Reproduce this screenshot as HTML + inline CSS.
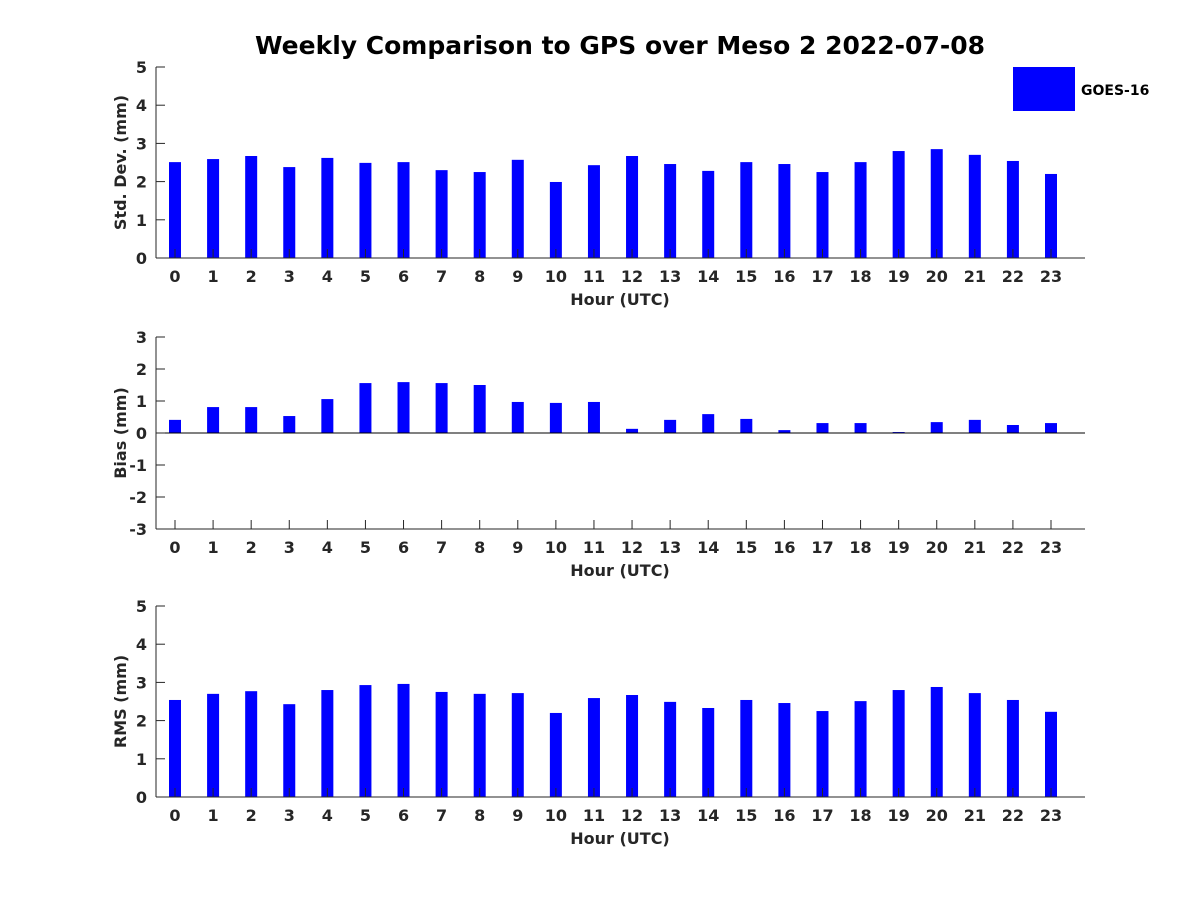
<!DOCTYPE html>
<html><head><meta charset="utf-8"><style>
body{margin:0;background:#fff}
svg text{font-family:"DejaVu Sans","Liberation Sans",sans-serif;font-weight:bold;fill:#262626}
</style></head><body>
<svg id="chart" width="1200" height="900" xmlns="http://www.w3.org/2000/svg">
<text x="620" y="54" text-anchor="middle" font-size="25" style="fill:#000">Weekly Comparison to GPS over Meso 2 2022-07-08</text>
<rect x="1013" y="67" width="62" height="44" fill="#0000ff"/>
<text x="1081" y="95" font-size="14" style="fill:#000">GOES-16</text>
<g id="plots"></g>
</svg>
<script>
const hours = [0,1,2,3,4,5,6,7,8,9,10,11,12,13,14,15,16,17,18,19,20,21,22,23];
const stdValues = [2.51,2.59,2.67,2.38,2.62,2.49,2.51,2.30,2.25,2.57,1.99,2.43,2.67,2.46,2.28,2.51,2.46,2.25,2.51,2.80,2.85,2.70,2.54,2.20];
const biasValues = [0.41,0.81,0.81,0.53,1.06,1.56,1.59,1.56,1.50,0.97,0.94,0.97,0.13,0.41,0.59,0.44,0.09,0.31,0.31,0.03,0.34,0.41,0.25,0.31];
const rmsValues = [2.54,2.70,2.77,2.43,2.80,2.93,2.96,2.75,2.70,2.72,2.20,2.59,2.67,2.49,2.33,2.54,2.46,2.25,2.51,2.80,2.88,2.72,2.54,2.23];
const stdTicks = [0,1,2,3,4,5];
const biasTicks = [-3,-2,-1,0,1,2,3];
const rmsTicks = [0,1,2,3,4,5];
const NS='http://www.w3.org/2000/svg';
const g=document.getElementById('plots');
function mk(tag,attrs,parent){const e=document.createElementNS(NS,tag);for(const k in attrs)e.setAttribute(k,attrs[k]);(parent||g).appendChild(e);return e;}
const xL=156,xR=1085;
function xs(h){return 175+(h-hours[0])*(1051-175)/23;}
function panel(name,vals,ticks,yTop,yBot,ylabel){
  const vmin=ticks[0],vmax=ticks[ticks.length-1];
  const ys=v=>yBot-(v-vmin)*(yBot-yTop)/(vmax-vmin);
  const grp=mk('g',{});
  
  
  vals.forEach((v,i)=>{
    const y0=ys(0),y1=ys(v);
    const r=mk('rect',{x:xs(hours[i])-6,y:Math.min(y0,y1),width:12,height:Math.abs(y1-y0),fill:'#0000ff'},grp);
    
    
  });
  if(vmin<0){const z=mk('line',{x1:xL,x2:xR,y1:ys(0),y2:ys(0),stroke:'#000','stroke-width':1},grp);
    }
  const ax=mk('line',{x1:xL,x2:xL,y1:yTop,y2:yBot,stroke:'#262626'},grp);
  
  const bx=mk('line',{x1:xL,x2:xR,y1:yBot,y2:yBot,stroke:'#262626'},grp);
  
  ticks.forEach(t=>{
    mk('line',{x1:xL,x2:xL+9,y1:ys(t),y2:ys(t),stroke:'#262626'},grp);
    const tx=mk('text',{x:xL-9,y:ys(t)+6,'text-anchor':'end','font-size':16},grp);
    tx.textContent=t;
    
  });
  hours.forEach(h=>{
    mk('line',{x1:xs(h),x2:xs(h),y1:yBot,y2:yBot-9,stroke:'#262626'},grp);
    const tx=mk('text',{x:xs(h),y:yBot+24,'text-anchor':'middle','font-size':16},grp);
    tx.textContent=h;
    
  });
  const xt=mk('text',{x:620,y:yBot+47,'text-anchor':'middle','font-size':16},grp);
  xt.textContent='Hour (UTC)';
  
  const cy=(yTop+yBot)/2;
  const yt=mk('text',{x:126,y:cy,'text-anchor':'middle','font-size':16,transform:'rotate(-90 126 '+cy+')'},grp);
  yt.textContent=ylabel;
  
}
panel('std',stdValues,stdTicks,67,258,'Std. Dev. (mm)');
panel('bias',biasValues,biasTicks,337,529,'Bias (mm)');
panel('rms',rmsValues,rmsTicks,606,797,'RMS (mm)');
</script>
</body></html>
